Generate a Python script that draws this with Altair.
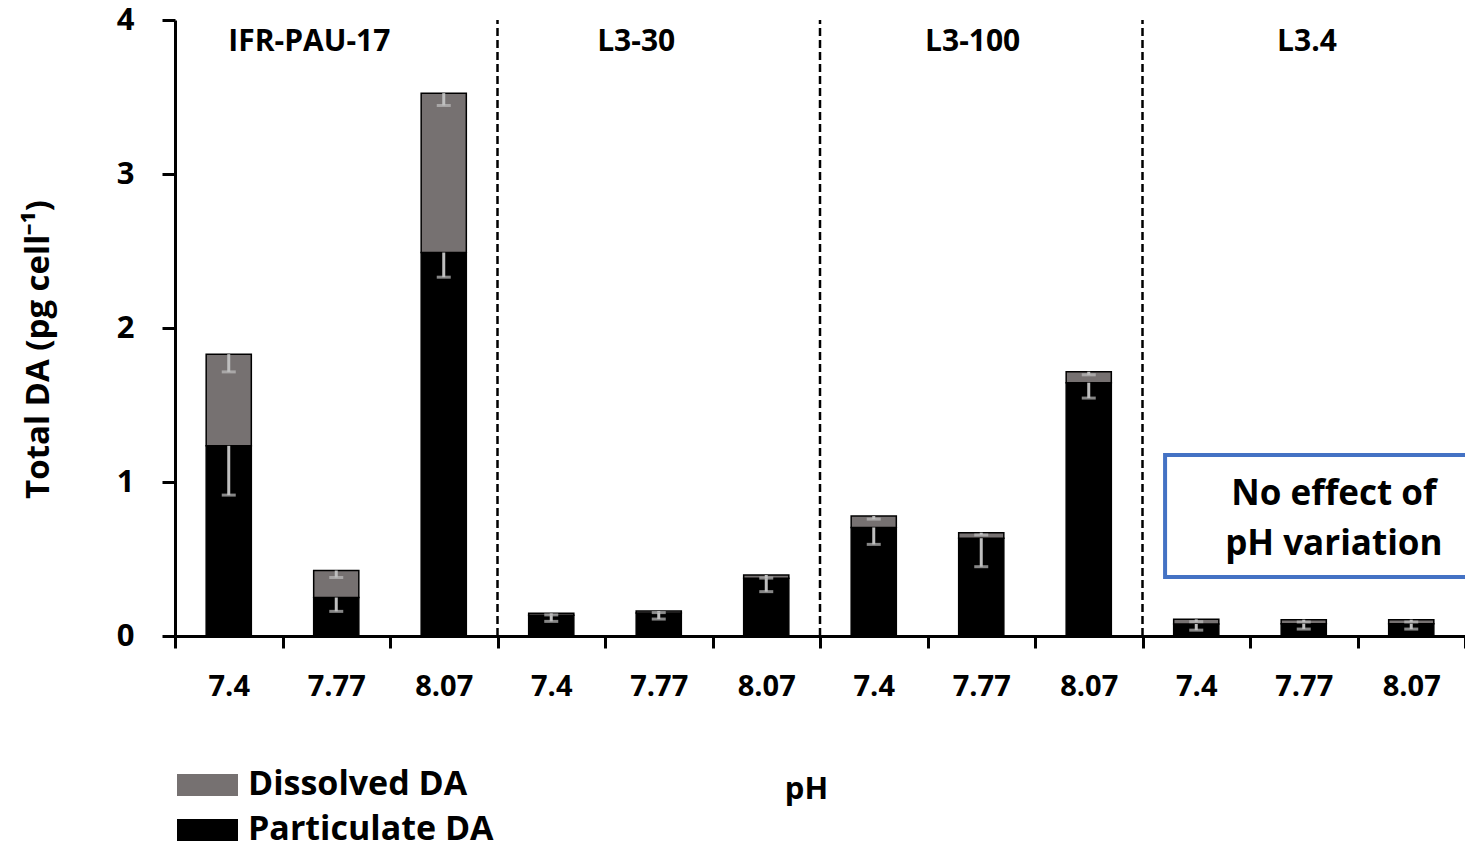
import altair as alt
import pandas as pd

groups = ["IFR-PAU-17", "L3-30", "L3-100", "L3.4"]
ph_labels = ["7.4", "7.77", "8.07"]
particulate = [1.235, 0.25, 2.49, 0.135, 0.15, 0.375, 0.705, 0.635, 1.645, 0.078, 0.08, 0.08]
dissolved = [0.595, 0.175, 1.035, 0.012, 0.012, 0.021, 0.074, 0.036, 0.071, 0.03, 0.026, 0.026]
particulate_sd = [0.32, 0.09, 0.16, 0.04, 0.04, 0.087, 0.11, 0.185, 0.10, 0.04, 0.035, 0.035]
dissolved_sd = [0.115, 0.045, 0.08, 0.01, 0.01, 0.02, 0.02, 0.015, 0.02, 0.015, 0.015, 0.015]

group_label_x = [1.25, 4.29, 7.42, 10.53]
note_lines = ["No effect of", "pH variation"]

FONT = "Open Sans"
HALF = 0.21

rows, errs = [], []
for i in range(12):
    c = i + 0.5
    p, d = particulate[i], dissolved[i]
    rows.append({"series": "Particulate DA", "x": c - HALF, "x2": c + HALF, "y0": 0, "y1": p})
    rows.append({"series": "Dissolved DA", "x": c - HALF, "x2": c + HALF, "y0": p, "y1": p + d})
    errs.append({"xc": c, "top": p, "low": p - particulate_sd[i]})
    errs.append({"xc": c, "top": p + d, "low": p + d - dissolved_sd[i]})
bars_df = pd.DataFrame(rows)
err_df = pd.DataFrame(errs)

xscale = alt.Scale(domain=[0, 12], nice=False, zero=False)
yscale = alt.Scale(domain=[0, 4], nice=False)

label_arr = "[" + ",".join("'%s'" % s for s in ph_labels) + "]"

x_axis = alt.Axis(
    values=list(range(13)), grid=False, domainWidth=3, domainColor="black",
    tickSize=12, tickWidth=3, tickColor="black", labelOffset=53.75, labelFlush=False,
    labelExpr="datum.value >= 12 ? '' : " + label_arr + "[datum.value % 3]",
    labelFont=FONT, labelFontSize=29, labelFontWeight="bold", labelColor="black",
    labelPadding=24, title="pH", titleFont=FONT, titleFontSize=31, titleFontWeight="bold",
    titleColor="black", titleX=631, titleY=153, titleBaseline="middle", titleAlign="center",
)
y_axis = alt.Axis(
    values=[0, 1, 2, 3, 4], format="d", grid=False, domainWidth=3, domainColor="black",
    tickSize=13, tickWidth=3, tickColor="black", labelFont=FONT, labelFontSize=31,
    labelFontWeight="bold", labelColor="black", labelPadding=28,
    title="Total DA (pg cell⁻¹)", titleFont=FONT, titleFontSize=33, titleFontWeight="bold",
    titleColor="black", titleX=-137, titleY=329, titleBaseline="middle", titleAlign="center",
)

bars = alt.Chart(bars_df).mark_rect(stroke="black", strokeWidth=1.5).encode(
    x=alt.X("x:Q", scale=xscale, axis=x_axis),
    x2="x2:Q",
    y=alt.Y("y0:Q", scale=yscale, axis=y_axis),
    y2="y1:Q",
    color=alt.Color(
        "series:N",
        scale=alt.Scale(domain=["Dissolved DA", "Particulate DA"], range=["#767171", "#000000"]),
        legend=alt.Legend(
            title=None, orient="none", legendX=7.5, legendY=740, padding=0,
            symbolType="M-1.22,-0.44L1.22,-0.44L1.22,0.44L-1.22,0.44Z", symbolSize=2500,
            symbolStrokeWidth=0, labelFont=FONT, labelFontSize=34, labelFontWeight="bold",
            labelColor="black", labelOffset=15.5, rowPadding=3, labelLimit=400,
        ),
    ),
)

err_rule = alt.Chart(err_df).mark_rule(color="#bfbfbf", strokeWidth=3).encode(
    x="xc:Q", y="top:Q", y2="low:Q"
)
err_cap = alt.Chart(err_df).mark_tick(color="#bfbfbf", thickness=3, size=14, orient="horizontal").encode(
    x="xc:Q", y="low:Q"
)

sep_df = pd.DataFrame({"xs": [3, 6, 9], "ya": [0, 0, 0], "yb": [4, 4, 4]})
seps = alt.Chart(sep_df).mark_rule(color="black", strokeWidth=2.5, strokeDash=[8, 4]).encode(
    x="xs:Q", y="ya:Q", y2="yb:Q"
)

glab_df = pd.DataFrame({"name": groups, "gx": group_label_x, "gy": [3.857] * 4})
glabs = alt.Chart(glab_df).mark_text(
    font=FONT, fontSize=30, fontWeight="bold", color="black", baseline="middle", align="center"
).encode(x="gx:Q", y="gy:Q", text="name:N")

box_df = pd.DataFrame({"bx": [9.21], "bx2": [12.2], "by": [0.383], "by2": [1.175]})
box = alt.Chart(box_df).mark_rect(fill="white", stroke="#4472C4", strokeWidth=4, clip=True).encode(
    x="bx:Q", x2="bx2:Q", y="by:Q", y2="by2:Q"
)
note_df = pd.DataFrame({"t": note_lines, "nx": [10.78, 10.78], "ny": [0.925, 0.6]})
note = alt.Chart(note_df).mark_text(
    font=FONT, fontSize=35, fontWeight="bold", color="black", baseline="middle", align="center"
).encode(x="nx:Q", y="ny:Q", text="t:N")

chart = alt.layer(seps, bars, err_rule, err_cap, glabs, box, note).properties(
    width=1290, height=616,
    autosize=alt.AutoSizeParams(type="none"),
    padding={"left": 175, "top": 20, "right": 0, "bottom": 218},
).configure(background="white", view=alt.ViewConfig(stroke=None))

chart.save("out.html", embed_options={"renderer": "svg", "actions": False})
